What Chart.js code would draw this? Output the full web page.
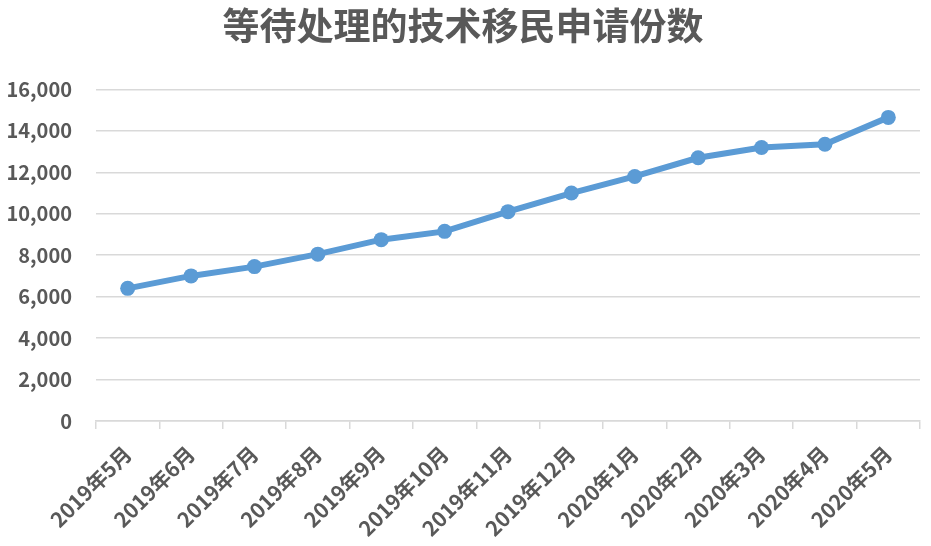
<!DOCTYPE html>
<html>
<head>
<meta charset="utf-8">
<script src="https://cdn.jsdelivr.net/npm/chart.js@4"></script>
<style>
  html, body { margin: 0; padding: 0; background: #fff; }
  #wrap { width: 931px; height: 546px; }
</style>
</head>
<body>
<div id="wrap"><canvas id="chart"></canvas></div>
<script>
// Data
const months = ['2019年5月', '2019年6月', '2019年7月', '2019年8月', '2019年9月', '2019年10月',
    '2019年11月', '2019年12月', '2020年1月', '2020年2月', '2020年3月', '2020年4月', '2020年5月'];
const pendingApplications = [6400, 7000, 7450, 8050, 8750, 9150, 10100, 11000, 11800, 12700, 13200, 13350, 14650];
const yTicks = [0, 2000, 4000, 6000, 8000, 10000, 12000, 14000, 16000];

const titleText = '等待处理的技术移民申请份数';
const lineColor = '#5B9BD5';
const textColor = '#595959';
const gridColor = '#D9D9D9';
const fontFamily = '"Noto Sans CJK SC", "Noto Sans", sans-serif';

const ctx = document.getElementById('chart').getContext('2d');
new Chart(ctx, {
    type: 'line',
    data: {
        labels: months,
        datasets: [{
            label: titleText,
            data: pendingApplications,
            borderColor: lineColor,
            backgroundColor: lineColor,
            borderWidth: 6,
            pointRadius: 7.5,
            pointBorderWidth: 0,
            tension: 0
        }]
    },
    options: {
        responsive: true,
        maintainAspectRatio: false,
        animation: false,
        layout: { padding: { left: 6, right: 11, top: 0, bottom: 0 } },
        plugins: {
            legend: { display: false },
            tooltip: { enabled: false },
            title: {
                display: true,
                text: titleText,
                color: textColor,
                font: { family: fontFamily, size: 37, weight: 'bold' },
                padding: { top: 4, bottom: 41 }
            }
        },
        scales: {
            x: {
                offset: true,
                afterFit: axis => {
                    axis.height = 125;
                    axis.paddingLeft = 0;
                    axis.paddingRight = 0;
                },
                grid: {
                    offset: true,
                    drawOnChartArea: false,
                    drawTicks: true,
                    tickLength: 8,
                    color: gridColor,
                    lineWidth: 1.5
                },
                border: { color: gridColor, width: 1.5 },
                ticks: {
                    color: textColor,
                    font: { family: fontFamily, size: 21, weight: 'bold' },
                    minRotation: 45,
                    maxRotation: 45,
                    autoSkip: false,
                    padding: 12
                }
            },
            y: {
                min: 0,
                max: 16000,
                afterBuildTicks: axis => { axis.ticks = yTicks.map(v => ({ value: v })); },
                afterFit: axis => { axis.width = 90; },
                grid: { color: gridColor, lineWidth: 1.5, drawTicks: false },
                border: { display: false },
                ticks: {
                    color: textColor,
                    font: { family: fontFamily, size: 20, weight: 'bold' },
                    padding: 24,
                    callback: v => v.toLocaleString('en-US')
                }
            }
        }
    }
});
</script>
</body>
</html>
